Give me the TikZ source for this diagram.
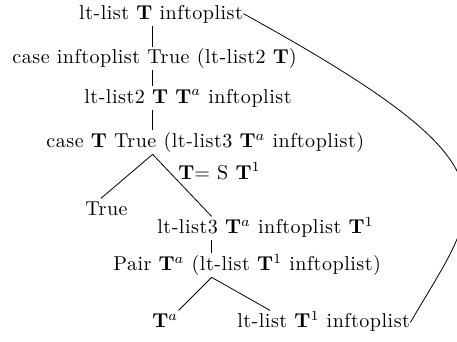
\documentclass[tikz,border=0pt]{standalone}
\usepackage{fontspec}
\setmainfont{Latin Modern Roman}[LetterSpace=2.5]
\tikzset{expr/.style={anchor=base west, inner sep=0pt, text height=8.5pt, text depth=3pt}}
\begin{document}
\begin{tikzpicture}
	\clip (0,0) rectangle (8.0,5.985);
	\coordinate (spine) at (2.672,0);
	\coordinate (spinetwo) at (3.705,0);
	\node[expr] (top) at (1.38,5.65) {lt-list $\mathbf{T}$ inftoplist};
	\node[expr] (caseinf) at (0.21,4.865) {case inftoplist True (lt-list2 $\mathbf{T}$)};
	\node[expr] (ltlisttwo) at (1.47,4.18) {lt-list2 $\mathbf{T}$ $\mathbf{T}^a$ inftoplist};
	\node[expr] (caset) at (0.805,3.395) {case $\mathbf{T}$ True (lt-list3 $\mathbf{T}^a$ inftoplist)};
	\node[expr] (cond) at (3.115,2.85) {$\mathbf{T}$= S $\mathbf{T}^1$};
	\node[expr] (true) at (1.4875,2.205) {True};
	\node[expr] (ltlistthree) at (2.7475,1.89) {lt-list3 $\mathbf{T}^a$ inftoplist $\mathbf{T}^1$};
	\node[expr] (pair) at (1.9775,1.2425) {Pair $\mathbf{T}^a$ (lt-list $\mathbf{T}^1$ inftoplist)};
	\node[expr] (ta) at (2.66,0.245) {$\mathbf{T}^a$};
	\node[expr] (ltlist) at (4.1475,0.245) {lt-list $\mathbf{T}^1$ inftoplist};
	\draw (top.south -| spine) -- (caseinf.north -| spine);
	\draw (caseinf.south -| spine) -- (ltlisttwo.north -| spine);
	\draw (ltlisttwo.south -| spine) -- (caset.north -| spine);
	\draw (caset.south -| spine) -- ([xshift=-0.1cm]true.north);
	\draw (caset.south -| spine) -- (ltlistthree.north -| spinetwo);
	\draw (ltlistthree.south -| spinetwo) -- (pair.north -| spinetwo);
	\draw (pair.south -| spinetwo) -- (ta.north east);
	\draw (pair.south -| spinetwo) -- ([xshift=0.58cm]ltlist.north west);
	\draw (top.east) .. controls (9.26,2.99) and (8.45,2.52) .. (ltlist.east);
\end{tikzpicture}
\end{document}
